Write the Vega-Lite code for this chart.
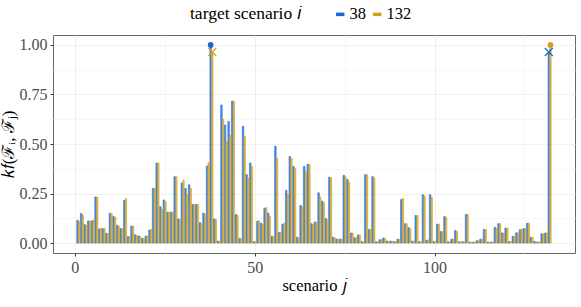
{
"$schema": "https://vega.github.io/schema/vega-lite/v6.json",
"width": 522, "height": 218,
"autosize": "none",
"padding": {"left": 53, "top": 35, "right": 6, "bottom": 54},
"background": "white",
"config": {
  "view": {"stroke": "#666666", "strokeWidth": 1},
  "font": "Liberation Serif",
  "axis": {"gridColor": "#ececec", "gridWidth": 0.8, "tickColor": "#333333", "tickSize": 3, "domain": false,
           "labelFontSize": 16, "labelColor": "#4d4d4d", "labelFont": "Liberation Serif",
           "titleFontSize": 16.5, "titleFontWeight": "normal", "titleColor": "#000000", "titleFont": "Liberation Serif"}
},
"datasets": {
"bars": [
{"j":1,"i":"38","k":0.115},{"j":1,"i":"132","k":0.108},
{"j":2,"i":"38","k":0.149},{"j":2,"i":"132","k":0.142},
{"j":3,"i":"38","k":0.093},{"j":3,"i":"132","k":0.088},
{"j":4,"i":"38","k":0.112},{"j":4,"i":"132","k":0.112},
{"j":5,"i":"38","k":0.112},{"j":5,"i":"132","k":0.117},
{"j":6,"i":"38","k":0.233},{"j":6,"i":"132","k":0.233},
{"j":7,"i":"38","k":0.071},{"j":7,"i":"132","k":0.074},
{"j":8,"i":"38","k":0.073},{"j":8,"i":"132","k":0.076},
{"j":9,"i":"38","k":0.049},{"j":9,"i":"132","k":0.049},
{"j":10,"i":"38","k":0.151},{"j":10,"i":"132","k":0.149},
{"j":11,"i":"38","k":0.134},{"j":11,"i":"132","k":0.130},
{"j":12,"i":"38","k":0.090},{"j":12,"i":"132","k":0.085},
{"j":13,"i":"38","k":0.073},{"j":13,"i":"132","k":0.073},
{"j":14,"i":"38","k":0.215},{"j":14,"i":"132","k":0.225},
{"j":15,"i":"38","k":0.032},{"j":15,"i":"132","k":0.034},
{"j":16,"i":"38","k":0.086},{"j":16,"i":"132","k":0.086},
{"j":17,"i":"38","k":0.042},{"j":17,"i":"132","k":0.039},
{"j":18,"i":"38","k":0.036},{"j":18,"i":"132","k":0.032},
{"j":19,"i":"38","k":0.024},{"j":19,"i":"132","k":0.024},
{"j":20,"i":"38","k":0.036},{"j":20,"i":"132","k":0.036},
{"j":21,"i":"38","k":0.066},{"j":21,"i":"132","k":0.068},
{"j":22,"i":"38","k":0.276},{"j":22,"i":"132","k":0.276},
{"j":23,"i":"38","k":0.404},{"j":23,"i":"132","k":0.404},
{"j":24,"i":"38","k":0.184},{"j":24,"i":"132","k":0.169},
{"j":25,"i":"38","k":0.218},{"j":25,"i":"132","k":0.208},
{"j":26,"i":"38","k":0.156},{"j":26,"i":"132","k":0.156},
{"j":27,"i":"38","k":0.156},{"j":27,"i":"132","k":0.156},
{"j":28,"i":"38","k":0.335},{"j":28,"i":"132","k":0.335},
{"j":29,"i":"38","k":0.122},{"j":29,"i":"132","k":0.118},
{"j":30,"i":"38","k":0.303},{"j":30,"i":"132","k":0.318},
{"j":31,"i":"38","k":0.276},{"j":31,"i":"132","k":0.245},
{"j":32,"i":"38","k":0.294},{"j":32,"i":"132","k":0.277},
{"j":33,"i":"38","k":0.195},{"j":33,"i":"132","k":0.195},
{"j":34,"i":"38","k":0.195},{"j":34,"i":"132","k":0.195},
{"j":35,"i":"38","k":0.103},{"j":35,"i":"132","k":0.096},
{"j":36,"i":"38","k":0.151},{"j":36,"i":"132","k":0.146},
{"j":37,"i":"38","k":0.389},{"j":37,"i":"132","k":0.406},
{"j":38,"i":"38","k":1.0},{"j":38,"i":"132","k":0.964},
{"j":39,"i":"38","k":0.122},{"j":39,"i":"132","k":0.118},
{"j":40,"i":"38","k":0.010},{"j":40,"i":"132","k":0.010},
{"j":41,"i":"38","k":0.697},{"j":41,"i":"132","k":0.626},
{"j":42,"i":"38","k":0.596},{"j":42,"i":"132","k":0.513},
{"j":43,"i":"38","k":0.614},{"j":43,"i":"132","k":0.545},
{"j":44,"i":"38","k":0.716},{"j":44,"i":"132","k":0.716},
{"j":45,"i":"38","k":0.144},{"j":45,"i":"132","k":0.140},
{"j":46,"i":"38","k":0.024},{"j":46,"i":"132","k":0.020},
{"j":47,"i":"38","k":0.589},{"j":47,"i":"132","k":0.538},
{"j":48,"i":"38","k":0.345},{"j":48,"i":"132","k":0.328},
{"j":49,"i":"38","k":0.404},{"j":49,"i":"132","k":0.387},
{"j":50,"i":"38","k":0.007},{"j":50,"i":"132","k":0.007},
{"j":51,"i":"38","k":0.110},{"j":51,"i":"132","k":0.113},
{"j":52,"i":"38","k":0.100},{"j":52,"i":"132","k":0.096},
{"j":53,"i":"38","k":0.176},{"j":53,"i":"132","k":0.179},
{"j":54,"i":"38","k":0.151},{"j":54,"i":"132","k":0.134},
{"j":55,"i":"38","k":0.034},{"j":55,"i":"132","k":0.034},
{"j":56,"i":"38","k":0.489},{"j":56,"i":"132","k":0.428},
{"j":57,"i":"38","k":0.054},{"j":57,"i":"132","k":0.054},
{"j":58,"i":"38","k":0.096},{"j":58,"i":"132","k":0.100},
{"j":59,"i":"38","k":0.266},{"j":59,"i":"132","k":0.245},
{"j":60,"i":"38","k":0.437},{"j":60,"i":"132","k":0.428},
{"j":61,"i":"38","k":0.387},{"j":61,"i":"132","k":0.377},
{"j":62,"i":"38","k":0.030},{"j":62,"i":"132","k":0.027},
{"j":63,"i":"38","k":0.190},{"j":63,"i":"132","k":0.183},
{"j":64,"i":"38","k":0.387},{"j":64,"i":"132","k":0.360},
{"j":65,"i":"38","k":0.398},{"j":65,"i":"132","k":0.396},
{"j":66,"i":"38","k":0.098},{"j":66,"i":"132","k":0.095},
{"j":67,"i":"38","k":0.107},{"j":67,"i":"132","k":0.103},
{"j":68,"i":"38","k":0.254},{"j":68,"i":"132","k":0.233},
{"j":69,"i":"38","k":0.212},{"j":69,"i":"132","k":0.203},
{"j":70,"i":"38","k":0.124},{"j":70,"i":"132","k":0.118},
{"j":71,"i":"38","k":0.333},{"j":71,"i":"132","k":0.330},
{"j":72,"i":"38","k":0.030},{"j":72,"i":"132","k":0.027},
{"j":73,"i":"38","k":0.020},{"j":73,"i":"132","k":0.020},
{"j":74,"i":"38","k":0.020},{"j":74,"i":"132","k":0.020},
{"j":75,"i":"38","k":0.342},{"j":75,"i":"132","k":0.335},
{"j":76,"i":"38","k":0.321},{"j":76,"i":"132","k":0.308},
{"j":77,"i":"38","k":0.051},{"j":77,"i":"132","k":0.051},
{"j":78,"i":"38","k":0.027},{"j":78,"i":"132","k":0.027},
{"j":79,"i":"38","k":0.041},{"j":79,"i":"132","k":0.041},
{"j":80,"i":"38","k":0.007},{"j":80,"i":"132","k":0.007},
{"j":81,"i":"38","k":0.345},{"j":81,"i":"132","k":0.345},
{"j":82,"i":"38","k":0.069},{"j":82,"i":"132","k":0.070},
{"j":83,"i":"38","k":0.335},{"j":83,"i":"132","k":0.328},
{"j":84,"i":"38","k":0.007},{"j":84,"i":"132","k":0.007},
{"j":85,"i":"38","k":0.017},{"j":85,"i":"132","k":0.017},
{"j":86,"i":"38","k":0.025},{"j":86,"i":"132","k":0.025},
{"j":87,"i":"38","k":0.010},{"j":87,"i":"132","k":0.010},
{"j":88,"i":"38","k":0.010},{"j":88,"i":"132","k":0.010},
{"j":89,"i":"38","k":0.007},{"j":89,"i":"132","k":0.007},
{"j":90,"i":"38","k":0.020},{"j":90,"i":"132","k":0.020},
{"j":91,"i":"38","k":0.220},{"j":91,"i":"132","k":0.225},
{"j":92,"i":"38","k":0.098},{"j":92,"i":"132","k":0.098},
{"j":93,"i":"38","k":0.078},{"j":93,"i":"132","k":0.074},
{"j":94,"i":"38","k":0.010},{"j":94,"i":"132","k":0.010},
{"j":95,"i":"38","k":0.139},{"j":95,"i":"132","k":0.139},
{"j":96,"i":"38","k":0.007},{"j":96,"i":"132","k":0.007},
{"j":97,"i":"38","k":0.244},{"j":97,"i":"132","k":0.237},
{"j":98,"i":"38","k":0.015},{"j":98,"i":"132","k":0.015},
{"j":99,"i":"38","k":0.244},{"j":99,"i":"132","k":0.232},
{"j":100,"i":"38","k":0.007},{"j":100,"i":"132","k":0.007},
{"j":101,"i":"38","k":0.096},{"j":101,"i":"132","k":0.096},
{"j":102,"i":"38","k":0.058},{"j":102,"i":"132","k":0.058},
{"j":103,"i":"38","k":0.134},{"j":103,"i":"132","k":0.129},
{"j":104,"i":"38","k":0.007},{"j":104,"i":"132","k":0.007},
{"j":105,"i":"38","k":0.020},{"j":105,"i":"132","k":0.020},
{"j":106,"i":"38","k":0.063},{"j":106,"i":"132","k":0.059},
{"j":107,"i":"38","k":0.007},{"j":107,"i":"132","k":0.007},
{"j":108,"i":"38","k":0.007},{"j":108,"i":"132","k":0.007},
{"j":109,"i":"38","k":0.144},{"j":109,"i":"132","k":0.144},
{"j":110,"i":"38","k":0.005},{"j":110,"i":"132","k":0.005},
{"j":111,"i":"38","k":0.005},{"j":111,"i":"132","k":0.005},
{"j":112,"i":"38","k":0.012},{"j":112,"i":"132","k":0.012},
{"j":113,"i":"38","k":0.020},{"j":113,"i":"132","k":0.020},
{"j":114,"i":"38","k":0.069},{"j":114,"i":"132","k":0.069},
{"j":115,"i":"38","k":0.005},{"j":115,"i":"132","k":0.005},
{"j":116,"i":"38","k":0.005},{"j":116,"i":"132","k":0.005},
{"j":117,"i":"38","k":0.080},{"j":117,"i":"132","k":0.074},
{"j":118,"i":"38","k":0.098},{"j":118,"i":"132","k":0.098},
{"j":119,"i":"38","k":0.051},{"j":119,"i":"132","k":0.051},
{"j":120,"i":"38","k":0.076},{"j":120,"i":"132","k":0.076},
{"j":121,"i":"38","k":0.008},{"j":121,"i":"132","k":0.008},
{"j":122,"i":"38","k":0.034},{"j":122,"i":"132","k":0.034},
{"j":123,"i":"38","k":0.052},{"j":123,"i":"132","k":0.052},
{"j":124,"i":"38","k":0.068},{"j":124,"i":"132","k":0.068},
{"j":125,"i":"38","k":0.073},{"j":125,"i":"132","k":0.073},
{"j":126,"i":"38","k":0.100},{"j":126,"i":"132","k":0.100},
{"j":127,"i":"38","k":0.029},{"j":127,"i":"132","k":0.029},
{"j":128,"i":"38","k":0.008},{"j":128,"i":"132","k":0.008},
{"j":129,"i":"38","k":0.005},{"j":129,"i":"132","k":0.005},
{"j":130,"i":"38","k":0.047},{"j":130,"i":"132","k":0.047},
{"j":131,"i":"38","k":0.051},{"j":131,"i":"132","k":0.051},
{"j":132,"i":"38","k":0.964},{"j":132,"i":"132","k":1.0}
],
"marks": [
{"j":38,"i":"38","k":1.0,"m":"self"},
{"j":132,"i":"132","k":1.0,"m":"self"},
{"j":38,"i":"132","k":0.964,"m":"near"},
{"j":132,"i":"38","k":0.964,"m":"near"}
]
},
"resolve": {"axis": {"x": "independent", "y": "independent"}},
"layer": [
{
  "data": {"name": "bars"},
  "transform": [{"filter": "datum.i == '38'"}],
  "mark": {"type": "bar", "size": 1.6, "xOffset": -0.81, "strokeWidth": 0.5, "fillOpacity": 0.75, "strokeOpacity": 1},
  "encoding": {
    "x": {"field": "j", "type": "quantitative", "scale": {"domain": [-6.05, 139.05], "nice": false, "zero": false, "padding": 0},
          "axis": {"values": [0, 50, 100], "title": "scenario 𝑗", "titlePadding": 2, "labelPadding": 3}},
    "y": {"field": "k", "type": "quantitative", "stack": null, "scale": {"domain": [-0.05, 1.05], "nice": false, "padding": 0},
          "axis": {"values": [0, 0.25, 0.5, 0.75, 1], "format": ".2f", "title": "𝑘𝑓(ℱᵢ, ℱⱼ)", "titleFontSize": 17, "titlePadding": 2, "labelPadding": 3}},
    "color": {"field": "i", "type": "nominal", "scale": {"domain": ["38", "132"], "range": ["#1565D8", "#D4A017"]},
              "legend": {"title": "target scenario 𝑖", "orient": "none", "legendX": 137, "legendY": -29, "direction": "horizontal",
                         "titleOrient": "left", "titleFontSize": 17.5, "titleFontWeight": "normal", "titleFont": "Liberation Serif", "titleColor": "#000000", "titlePadding": 30,
                         "labelFontSize": 16.5, "labelFont": "Liberation Serif", "labelColor": "#000000", "labelOffset": 1,
                         "symbolType": "stroke", "symbolStrokeWidth": 3.5, "symbolSize": 70, "columnPadding": 0, "symbolOpacity": 1}},
    "stroke": {"field": "i", "type": "nominal", "scale": {"domain": ["38", "132"], "range": ["#1565D8", "#D4A017"]}, "legend": null}
  }
},
{
  "data": {"name": "bars"},
  "transform": [{"filter": "datum.i == '132'"}],
  "mark": {"type": "bar", "size": 1.6, "xOffset": 0.81, "strokeWidth": 0.5, "fillOpacity": 0.75, "strokeOpacity": 1},
  "encoding": {
    "x": {"field": "j", "type": "quantitative", "axis": null},
    "y": {"field": "k", "type": "quantitative", "stack": null, "axis": null},
    "color": {"field": "i", "type": "nominal"},
    "stroke": {"field": "i", "type": "nominal", "legend": null}
  }
},
{
  "data": {"name": "marks"},
  "transform": [{"filter": "datum.i == '38'"}],
  "mark": {"type": "point", "filled": true, "xOffset": -0.81, "strokeWidth": 1.2, "opacity": 1},
  "encoding": {
    "x": {"field": "j", "type": "quantitative",
          "axis": {"values": [25, 75, 125], "orient": "bottom", "grid": true, "gridColor": "#f5f5f5", "labels": false, "ticks": false, "title": null, "domain": false}},
    "y": {"field": "k", "type": "quantitative",
          "axis": {"values": [0.125, 0.375, 0.625, 0.875], "orient": "left", "grid": true, "gridColor": "#f5f5f5", "labels": false, "ticks": false, "title": null, "domain": false}},
    "color": {"field": "i", "type": "nominal", "legend": null},
    "stroke": {"field": "i", "type": "nominal", "legend": null},
    "shape": {"field": "m", "type": "nominal", "scale": {"domain": ["self", "near"], "range": ["circle", "M-1,-1L1,1M-1,1L1,-1"]}, "legend": null},
    "size": {"field": "m", "type": "nominal", "scale": {"domain": ["self", "near"], "range": [20, 64]}, "legend": null}
  }
},
{
  "data": {"name": "marks"},
  "transform": [{"filter": "datum.i == '132'"}],
  "mark": {"type": "point", "filled": true, "xOffset": 0.81, "strokeWidth": 1.2, "opacity": 1},
  "encoding": {
    "x": {"field": "j", "type": "quantitative", "axis": null},
    "y": {"field": "k", "type": "quantitative", "axis": null},
    "color": {"field": "i", "type": "nominal", "legend": null},
    "stroke": {"field": "i", "type": "nominal", "legend": null},
    "shape": {"field": "m", "type": "nominal", "legend": null},
    "size": {"field": "m", "type": "nominal", "legend": null}
  }
}
]
}
